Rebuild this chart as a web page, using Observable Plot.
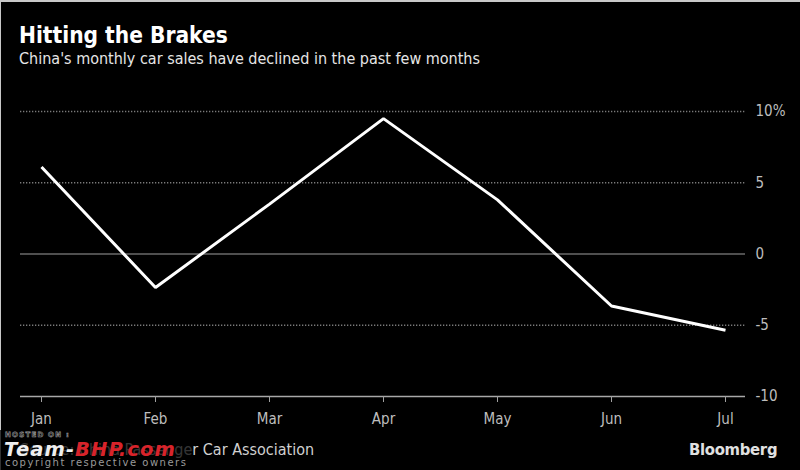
<!DOCTYPE html>
<html>
<head>
<meta charset="utf-8">
<script src="https://cdn.jsdelivr.net/npm/d3@7"></script>
<script src="https://cdn.jsdelivr.net/npm/@observablehq/plot@0.6"></script>
<style>
  html, body { margin: 0; padding: 0; background: #000; }
  #wrap {
    position: relative; width: 800px; height: 470px; background: #000; overflow: hidden;
    box-shadow: inset 1px 2px 0 #c8c8c8;
    font-family: "DejaVu Sans Condensed", "DejaVu Sans", sans-serif; font-stretch: condensed;
  }
  .abs { position: absolute; white-space: nowrap; line-height: 1; }
  #title { left: 19px; top: 24px; font-size: 22.5px; font-weight: bold; color: #fff; }
  #subtitle { left: 19px; top: 51px; font-size: 16px; color: #e6e6e6; }
  #chart { position: absolute; left: 0; top: 80px; }
  #source { left: 20px; top: 442px; font-size: 16px; color: #d0d0d0; }
  #brand { left: 689px; top: 442px; font-size: 16.5px; font-weight: bold; color: #e0e0e0; letter-spacing: -0.3px; }
  #wm-bg { left: 0; top: 430px; width: 192px; height: 40px; background: rgba(0,0,0,0.75); }
  #wm-hosted { left: 5px; top: 431px; line-height: 8px; font-family: "DejaVu Sans", sans-serif; font-stretch: normal; font-size: 7px; font-weight: bold; letter-spacing: 1.2px; color: #000; -webkit-text-stroke: 0.6px #9a9a9a; }
  #wm-team { left: 4px; top: 443px; line-height: 14px; font-family: "DejaVu Sans", sans-serif; font-stretch: normal; font-size: 19.5px; font-weight: bold; font-style: italic; letter-spacing: 1.1px; }
  #wm-copy { left: 5px; top: 458px; line-height: 10px; font-family: "DejaVu Sans", sans-serif; font-stretch: normal; font-size: 10px; letter-spacing: 1.5px; color: #9a9a9a; }
</style>
</head>
<body>
<div id="wrap">
  <div id="title" class="abs">Hitting the Brakes</div>
  <div id="subtitle" class="abs">China's monthly car sales have declined in the past few months</div>
  <div id="chart"></div>
  <div id="source" class="abs">Source: China Passenger Car Association</div>
  <div id="wm-bg" class="abs"></div>
  <div id="wm-hosted" class="abs">HOSTED ON :</div>
  <div id="wm-team" class="abs"><span style="color:#eeeeee">Team-</span><span style="color:#d8232a">BHP.com</span></div>
  <div id="wm-copy" class="abs">copyright respective owners</div>
  <div id="brand" class="abs">Bloomberg</div>
</div>
<script>
const months = ["Jan", "Feb", "Mar", "Apr", "May", "Jun", "Jul"];
const salesChange = [6.1, -2.35, 3.5, 9.5, 3.8, -3.65, -5.35];
const yTicks = [-10, -5, 0, 5, 10];
const dottedTicks = [10, 5, -5];

const data = months.map((m, i) => ({month: m, value: salesChange[i]}));

const chart = Plot.plot({
  width: 800,
  height: 360,
  marginTop: 31,
  marginBottom: 44,
  marginLeft: 20,
  marginRight: 55,
  style: {
    background: "transparent",
    color: "#bdbdbd",
    fontFamily: "'DejaVu Sans Condensed', 'DejaVu Sans', sans-serif",
    fontSize: "15px",
    overflow: "visible"
  },
  x: {type: "point", domain: months, padding: 0.17},
  y: {domain: [-10, 10]},
  marks: [
    Plot.ruleY(dottedTicks, {stroke: "#7a7a7a", strokeWidth: 1.5, strokeDasharray: "1.3,1.7"}),
    Plot.ruleY([0], {stroke: "#6a6a6a", strokeWidth: 1.5}),
    Plot.ruleY([-10], {stroke: "#a8a8a8", strokeWidth: 1.5}),
    Plot.axisY({
      anchor: "right",
      ticks: yTicks,
      tickSize: 0,
      tickPadding: 10,
      label: null,
      fill: "#bdbdbd",
      tickFormat: d => d === 10 ? "10%" : String(d)
    }),
    Plot.axisX({
      anchor: "bottom",
      tickSize: 6,
      tickPadding: 11,
      label: null,
      stroke: "#a0a0a0",
      fill: "#bdbdbd"
    }),
    Plot.line(data, {x: "month", y: "value", stroke: "#ffffff", strokeWidth: 3, strokeLinejoin: "miter", strokeLinecap: "butt"})
  ]
});
document.getElementById("chart").appendChild(chart);
</script>
</body>
</html>
